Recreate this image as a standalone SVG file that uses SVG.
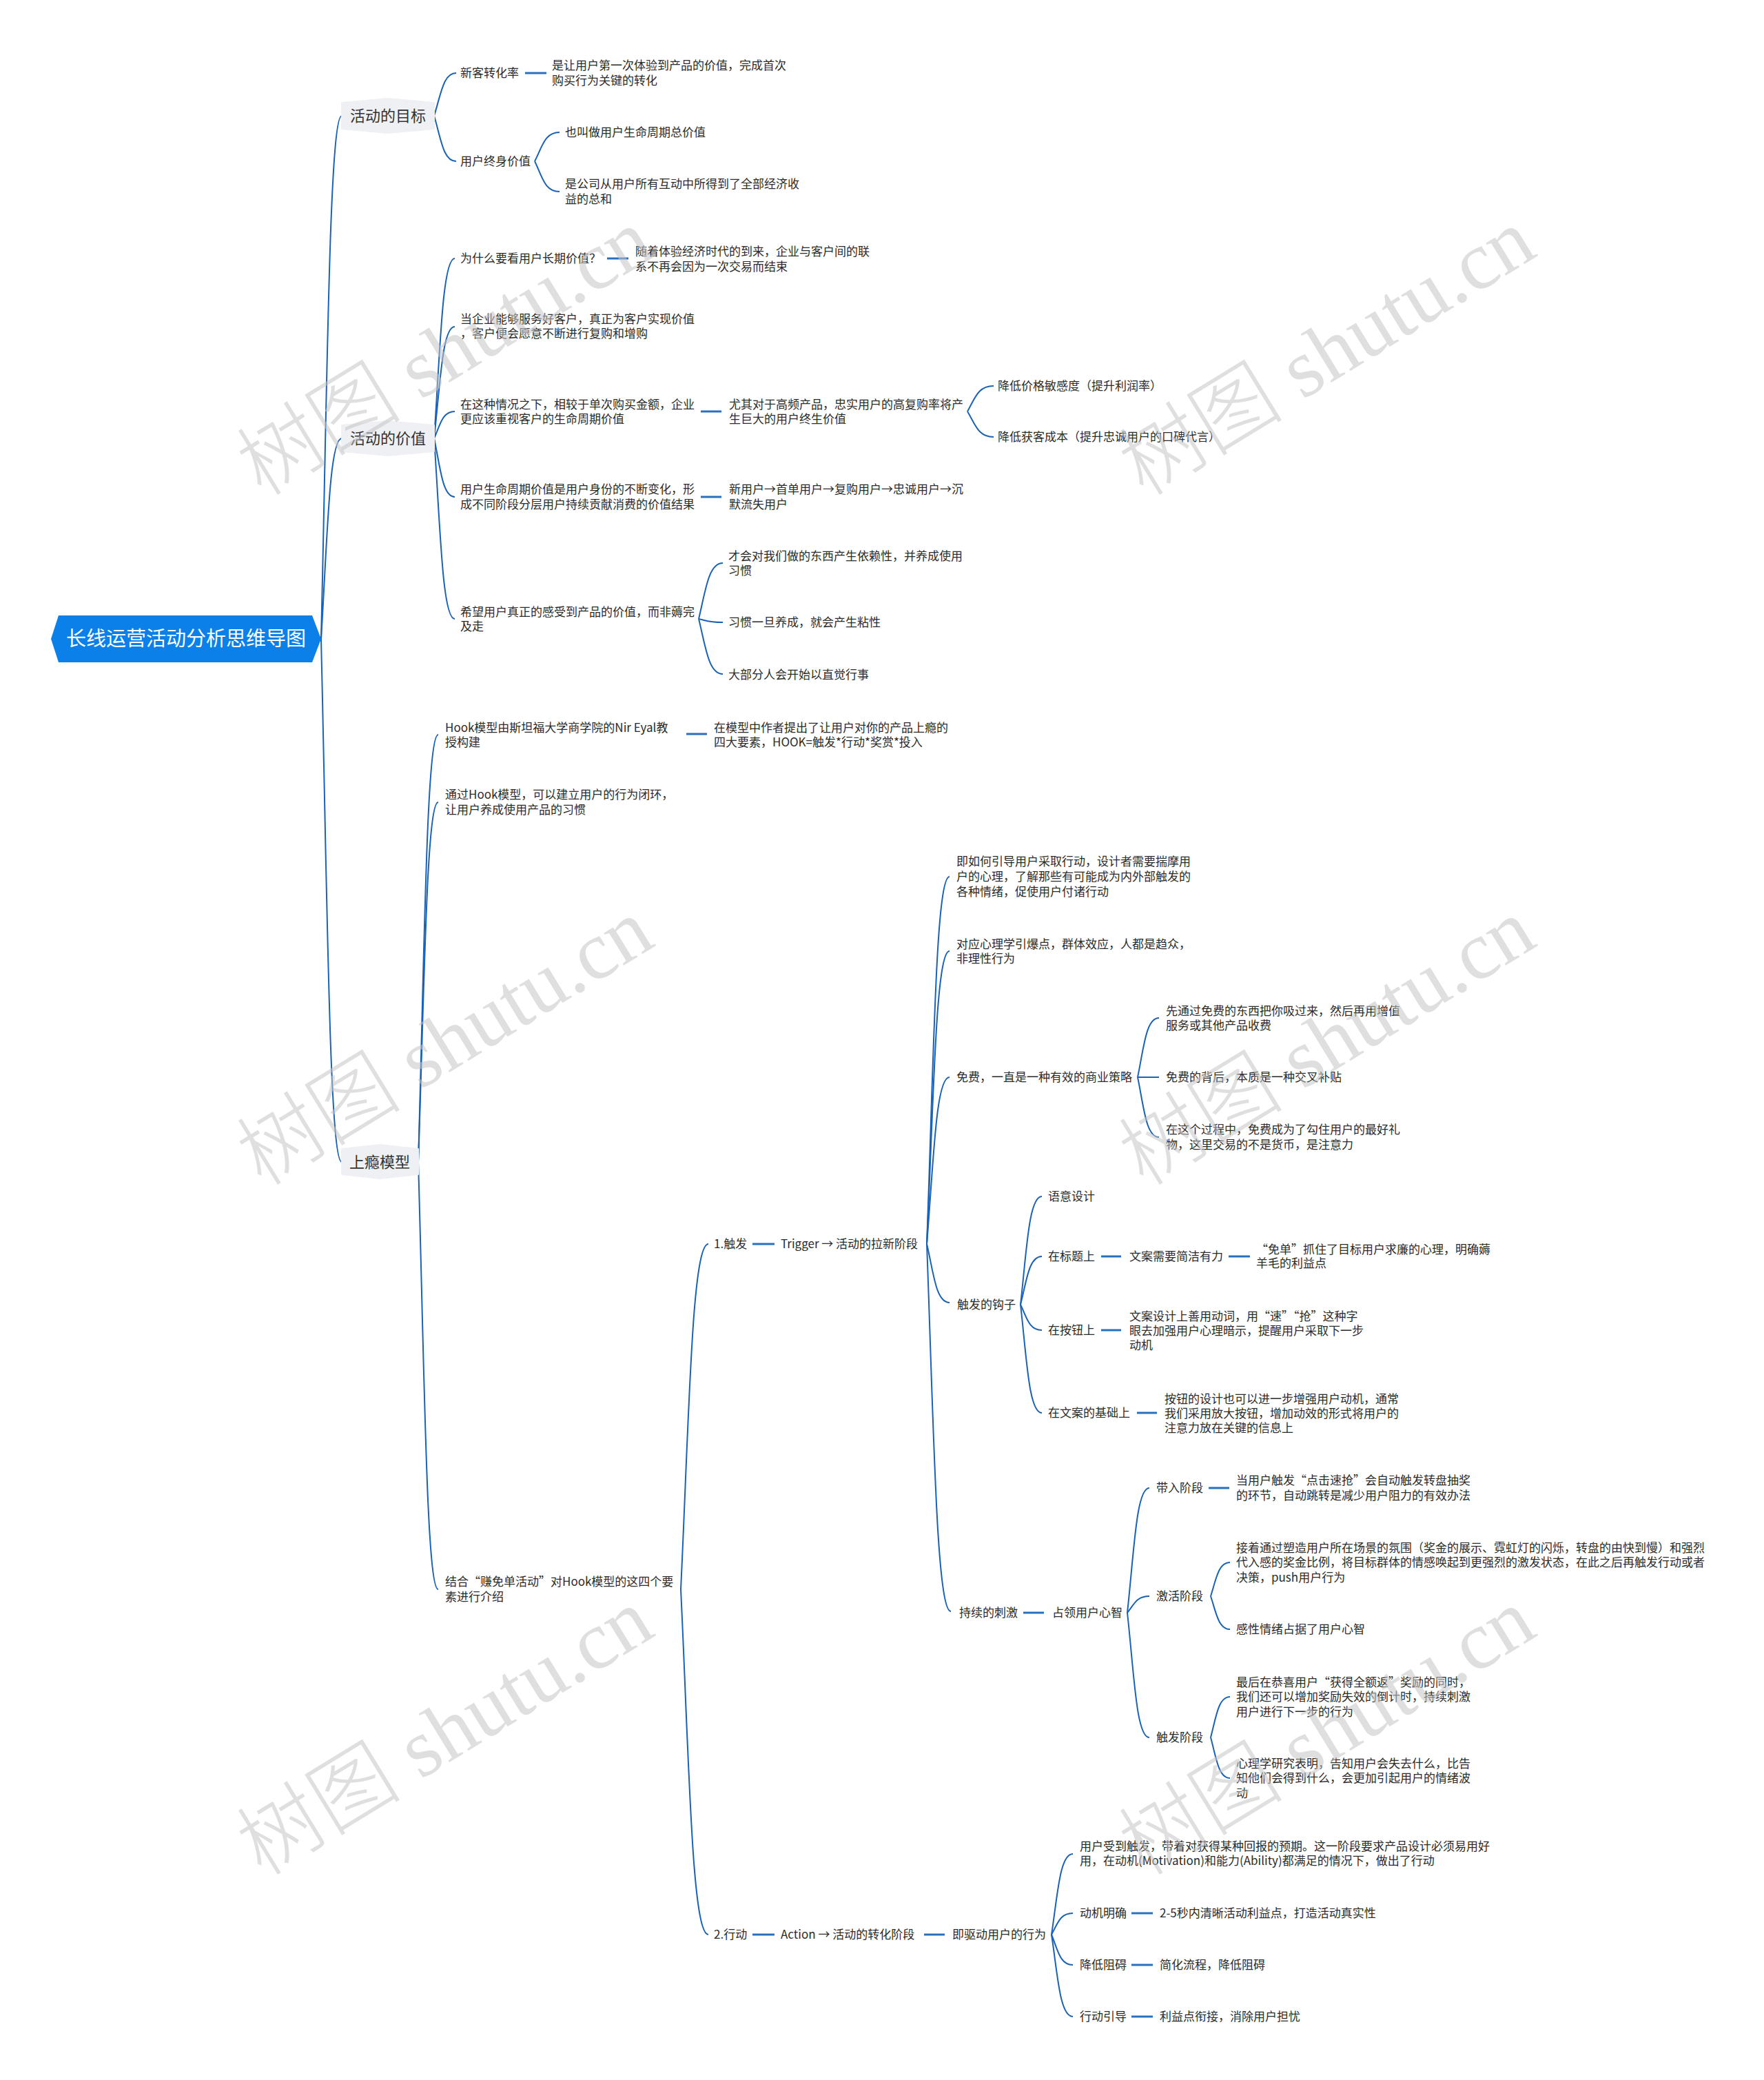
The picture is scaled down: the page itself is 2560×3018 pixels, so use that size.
<svg xmlns="http://www.w3.org/2000/svg" width="2560" height="3018" viewBox="0 0 2560 3018">
<style>
.t{font-family:"Noto Sans CJK SC","Liberation Sans",sans-serif;font-size:17px;fill:#2b2b2b}
.l1{font-family:"Noto Sans CJK SC","Liberation Sans",sans-serif;font-size:22px;fill:#333}
.rt{font-family:"Noto Sans CJK SC","Liberation Sans",sans-serif;font-size:29px;fill:#fff}
.c{fill:none;stroke:#1a62b5;stroke-width:2}
.d{stroke:#2870bf;stroke-width:3}
.hx{fill:#eef0f4;stroke:#eef0f4;stroke-width:2;stroke-linejoin:round}
.wm{font-family:"Liberation Serif","Noto Sans CJK SC",serif;font-size:120px;font-weight:300;fill:#c4c4c4;fill-opacity:0.55}
</style>
<rect width="2560" height="3018" fill="#fff"/>
<g id="connectors">
<path class="c" d="M466 927 C475 547 478 168 496 168"/>
<path class="c" d="M466 927 C475 781 478 636 496 636"/>
<path class="c" d="M466 927 C475 1306 478 1686 496 1686"/>
<path class="c" d="M630 168 C640 137 643 106 662 106"/>
<path class="c" d="M630 168 C640 201 643 234 662 234"/>
<path class="c" d="M776 234 C787 213 790 192 812 192"/>
<path class="c" d="M776 234 C787 256 790 278 812 278"/>
<path class="c" d="M630 636 C639 505 642 375 660 375"/>
<path class="c" d="M630 636 C639 555 642 474 660 474"/>
<path class="c" d="M630 636 C639 616 642 597 660 597"/>
<path class="c" d="M630 636 C639 678 642 721 660 721"/>
<path class="c" d="M630 636 C639 767 642 898 660 898"/>
<path class="c" d="M1404 597 C1415 578 1419 560 1442 560"/>
<path class="c" d="M1404 597 C1415 615 1419 634 1442 634"/>
<path class="c" d="M1014 898 C1024 857 1028 817 1049 817"/>
<path class="c" d="M1014 898 C1024 900 1028 903 1049 903"/>
<path class="c" d="M1014 898 C1024 938 1028 978 1049 978"/>
<path class="c" d="M607 1686 C616 1376 619 1066 636 1066"/>
<path class="c" d="M607 1686 C616 1425 619 1164 636 1164"/>
<path class="c" d="M607 1686 C616 1996 619 2306 636 2306"/>
<path class="c" d="M988 2306 C1000 2055 1004 1805 1028 1805"/>
<path class="c" d="M988 2306 C1000 2556 1004 2807 1028 2807"/>
<path class="c" d="M1345 1805 C1355 1538 1358 1272 1378 1272"/>
<path class="c" d="M1345 1805 C1355 1592 1358 1380 1378 1380"/>
<path class="c" d="M1345 1805 C1355 1684 1358 1563 1378 1563"/>
<path class="c" d="M1345 1805 C1355 1847 1358 1890 1378 1890"/>
<path class="c" d="M1345 1805 C1355 2071 1359 2338 1380 2338"/>
<path class="c" d="M1651 1563 C1660 1520 1663 1477 1682 1477"/>
<path class="c" d="M1651 1563 L1682 1563"/>
<path class="c" d="M1651 1563 C1660 1606 1663 1650 1682 1650"/>
<path class="c" d="M1481 1893 C1490 1814 1493 1736 1512 1736"/>
<path class="c" d="M1481 1893 C1490 1858 1493 1823 1512 1823"/>
<path class="c" d="M1481 1893 C1490 1911 1493 1930 1512 1930"/>
<path class="c" d="M1481 1893 C1490 1971 1493 2050 1512 2050"/>
<path class="c" d="M1636 2340 C1646 2249 1649 2159 1668 2159"/>
<path class="c" d="M1636 2340 C1646 2328 1649 2316 1668 2316"/>
<path class="c" d="M1636 2340 C1646 2430 1649 2521 1668 2521"/>
<path class="c" d="M1757 2316 C1765 2291 1768 2267 1785 2267"/>
<path class="c" d="M1757 2316 C1765 2340 1768 2364 1785 2364"/>
<path class="c" d="M1757 2521 C1765 2491 1768 2462 1785 2462"/>
<path class="c" d="M1757 2521 C1765 2550 1768 2580 1785 2580"/>
<path class="c" d="M1526 2807 C1535 2748 1538 2690 1557 2690"/>
<path class="c" d="M1526 2807 C1535 2791 1538 2776 1557 2776"/>
<path class="c" d="M1526 2807 C1535 2829 1538 2851 1557 2851"/>
<path class="c" d="M1526 2807 C1535 2866 1538 2926 1557 2926"/>
<line class="d" x1="762" y1="106" x2="793" y2="106"/>
<line class="d" x1="881" y1="375" x2="912" y2="375"/>
<line class="d" x1="1017" y1="597" x2="1047" y2="597"/>
<line class="d" x1="1017" y1="721" x2="1047" y2="721"/>
<line class="d" x1="996" y1="1065" x2="1026" y2="1065"/>
<line class="d" x1="1092" y1="1805" x2="1124" y2="1805"/>
<line class="d" x1="1598" y1="1823" x2="1627" y2="1823"/>
<line class="d" x1="1783" y1="1823" x2="1814" y2="1823"/>
<line class="d" x1="1598" y1="1930" x2="1627" y2="1930"/>
<line class="d" x1="1650" y1="2050" x2="1679" y2="2050"/>
<line class="d" x1="1485" y1="2340" x2="1515" y2="2340"/>
<line class="d" x1="1754" y1="2159" x2="1784" y2="2159"/>
<line class="d" x1="1092" y1="2807" x2="1124" y2="2807"/>
<line class="d" x1="1341" y1="2807" x2="1371" y2="2807"/>
<line class="d" x1="1642" y1="2776" x2="1673" y2="2776"/>
<line class="d" x1="1642" y1="2851" x2="1673" y2="2851"/>
<line class="d" x1="1642" y1="2926" x2="1673" y2="2926"/>
</g>
<g id="root">
<polygon points="85,893 453,893 466,927 453,961 85,961 74,927" fill="#0a80e8"/>
<text class="rt" x="270" y="937" text-anchor="middle">长线运营活动分析思维导图</text>
</g>
<g id="n-goal">
<polygon class="hx" points="496,149 563,143 630,149 630,187 563,193 496,187"/>
<text class="l1" x="563" y="176" text-anchor="middle">活动的目标</text>
</g>
<g id="n-goal-1"><text class="t" x="668" y="112">新客转化率</text></g>
<g id="n-goal-1a"><text class="t" x="801" y="101">是让用户第一次体验到产品的价值，完成首次<tspan x="801" dy="22">购买行为关键的转化</tspan></text></g>
<g id="n-goal-2"><text class="t" x="668" y="240">用户终身价值</text></g>
<g id="n-goal-2a"><text class="t" x="820" y="198">也叫做用户生命周期总价值</text></g>
<g id="n-goal-2b"><text class="t" x="820" y="273">是公司从用户所有互动中所得到了全部经济收<tspan x="820" dy="22">益的总和</tspan></text></g>
<g id="n-value">
<polygon class="hx" points="496,617 563,611 630,617 630,655 563,661 496,655"/>
<text class="l1" x="563" y="644" text-anchor="middle">活动的价值</text>
</g>
<g id="n-value-1"><text class="t" x="668" y="381">为什么要看用户长期价值？</text></g>
<g id="n-value-1a"><text class="t" x="922" y="371">随着体验经济时代的到来，企业与客户间的联<tspan x="922" dy="22">系不再会因为一次交易而结束</tspan></text></g>
<g id="n-value-2"><text class="t" x="668" y="469">当企业能够服务好客户，真正为客户实现价值<tspan x="668" dy="21">，客户便会愿意不断进行复购和增购</tspan></text></g>
<g id="n-value-3"><text class="t" x="668" y="593">在这种情况之下，相较于单次购买金额，企业<tspan x="668" dy="21">更应该重视客户的生命周期价值</tspan></text></g>
<g id="n-value-3a"><text class="t" x="1058" y="593">尤其对于高频产品，忠实用户的高复购率将产<tspan x="1058" dy="21">生巨大的用户终生价值</tspan></text></g>
<g id="n-value-3a1"><text class="t" x="1448" y="566">降低价格敏感度（提升利润率）</text></g>
<g id="n-value-3a2"><text class="t" x="1448" y="640">降低获客成本（提升忠诚用户的口碑代言）</text></g>
<g id="n-value-4"><text class="t" x="668" y="716">用户生命周期价值是用户身份的不断变化，形<tspan x="668" dy="22">成不同阶段分层用户持续贡献消费的价值结果</tspan></text></g>
<g id="n-value-4a"><text class="t" x="1058" y="716">新用户→首单用户→复购用户→忠诚用户→沉<tspan x="1058" dy="22">默流失用户</tspan></text></g>
<g id="n-value-5"><text class="t" x="668" y="894">希望用户真正的感受到产品的价值，而非薅完<tspan x="668" dy="21">及走</tspan></text></g>
<g id="n-value-5a"><text class="t" x="1057" y="813">才会对我们做的东西产生依赖性，并养成使用<tspan x="1057" dy="21">习惯</tspan></text></g>
<g id="n-value-5b"><text class="t" x="1057" y="909">习惯一旦养成，就会产生粘性</text></g>
<g id="n-value-5c"><text class="t" x="1057" y="985">大部分人会开始以直觉行事</text></g>
<g id="n-hook">
<polygon class="hx" points="496,1667 551,1661 607,1667 607,1704 551,1710 496,1704"/>
<text class="l1" x="551" y="1694" text-anchor="middle">上瘾模型</text>
</g>
<g id="n-hook-1"><text class="t" x="646" y="1062">Hook模型由斯坦福大学商学院的Nir Eyal教<tspan x="646" dy="21">授构建</tspan></text></g>
<g id="n-hook-1a"><text class="t" x="1036" y="1062">在模型中作者提出了让用户对你的产品上瘾的<tspan x="1036" dy="21">四大要素，HOOK=触发*行动*奖赏*投入</tspan></text></g>
<g id="n-hook-2"><text class="t" x="646" y="1159">通过Hook模型，可以建立用户的行为闭环，<tspan x="646" dy="22">让用户养成使用产品的习惯</tspan></text></g>
<g id="n-hook-3"><text class="t" x="646" y="2301">结合“赚免单活动”对Hook模型的这四个要<tspan x="646" dy="22">素进行介绍</tspan></text></g>
<g id="n-trigger"><text class="t" x="1036" y="1811">1.触发</text></g>
<g id="n-trigger-a"><text class="t" x="1133" y="1811">Trigger → 活动的拉新阶段</text></g>
<g id="n-t1"><text class="t" x="1388" y="1256">即如何引导用户采取行动，设计者需要揣摩用<tspan x="1388" dy="22">户的心理，了解那些有可能成为内外部触发的</tspan><tspan x="1388" dy="22">各种情绪，促使用户付诸行动</tspan></text></g>
<g id="n-t2"><text class="t" x="1388" y="1376">对应心理学引爆点，群体效应，人都是趋众，<tspan x="1388" dy="21">非理性行为</tspan></text></g>
<g id="n-t3"><text class="t" x="1388" y="1569">免费，一直是一种有效的商业策略</text></g>
<g id="n-t3a"><text class="t" x="1692" y="1473">先通过免费的东西把你吸过来，然后再用增值<tspan x="1692" dy="21">服务或其他产品收费</tspan></text></g>
<g id="n-t3b"><text class="t" x="1692" y="1569">免费的背后，本质是一种交叉补贴</text></g>
<g id="n-t3c"><text class="t" x="1692" y="1645">在这个过程中，免费成为了勾住用户的最好礼<tspan x="1692" dy="22">物，这里交易的不是货币，是注意力</tspan></text></g>
<g id="n-t4"><text class="t" x="1389" y="1899">触发的钩子</text></g>
<g id="n-t4a"><text class="t" x="1521" y="1742">语意设计</text></g>
<g id="n-t4b"><text class="t" x="1521" y="1829">在标题上</text></g>
<g id="n-t4b1"><text class="t" x="1639" y="1829">文案需要简洁有力</text></g>
<g id="n-t4b2"><text class="t" x="1823" y="1819">“免单”抓住了目标用户求廉的心理，明确薅<tspan x="1823" dy="20">羊毛的利益点</tspan></text></g>
<g id="n-t4c"><text class="t" x="1521" y="1936">在按钮上</text></g>
<g id="n-t4c1"><text class="t" x="1639" y="1916">文案设计上善用动词，用“速”“抢”这种字<tspan x="1639" dy="21">眼去加强用户心理暗示，提醒用户采取下一步</tspan><tspan x="1639" dy="21">动机</tspan></text></g>
<g id="n-t4d"><text class="t" x="1521" y="2056">在文案的基础上</text></g>
<g id="n-t4d1"><text class="t" x="1690" y="2036">按钮的设计也可以进一步增强用户动机，通常<tspan x="1690" dy="21">我们采用放大按钮，增加动效的形式将用户的</tspan><tspan x="1690" dy="21">注意力放在关键的信息上</tspan></text></g>
<g id="n-t5"><text class="t" x="1392" y="2346">持续的刺激</text></g>
<g id="n-t5x"><text class="t" x="1527" y="2346">占领用户心智</text></g>
<g id="n-t5a"><text class="t" x="1678" y="2165">带入阶段</text></g>
<g id="n-t5a1"><text class="t" x="1794" y="2154">当用户触发“点击速抢”会自动触发转盘抽奖<tspan x="1794" dy="22">的环节，自动跳转是减少用户阻力的有效办法</tspan></text></g>
<g id="n-t5b"><text class="t" x="1678" y="2322">激活阶段</text></g>
<g id="n-t5b1"><text class="t" x="1794" y="2252">接着通过塑造用户所在场景的氛围（奖金的展示、霓虹灯的闪烁，转盘的由快到慢）和强烈<tspan x="1794" dy="21">代入感的奖金比例，将目标群体的情感唤起到更强烈的激发状态，在此之后再触发行动或者</tspan><tspan x="1794" dy="22">决策，push用户行为</tspan></text></g>
<g id="n-t5b2"><text class="t" x="1794" y="2370">感性情绪占据了用户心智</text></g>
<g id="n-t5c"><text class="t" x="1678" y="2527">触发阶段</text></g>
<g id="n-t5c1"><text class="t" x="1794" y="2447">最后在恭喜用户“获得全额返”奖励的同时，<tspan x="1794" dy="21">我们还可以增加奖励失效的倒计时，持续刺激</tspan><tspan x="1794" dy="22">用户进行下一步的行为</tspan></text></g>
<g id="n-t5c2"><text class="t" x="1794" y="2565">心理学研究表明，告知用户会失去什么，比告<tspan x="1794" dy="21">知他们会得到什么，会更加引起用户的情绪波</tspan><tspan x="1794" dy="22">动</tspan></text></g>
<g id="n-action"><text class="t" x="1036" y="2813">2.行动</text></g>
<g id="n-action-a"><text class="t" x="1133" y="2813">Action → 活动的转化阶段</text></g>
<g id="n-action-b"><text class="t" x="1382" y="2813">即驱动用户的行为</text></g>
<g id="n-a1"><text class="t" x="1567" y="2685">用户受到触发，带着对获得某种回报的预期。这一阶段要求产品设计必须易用好<tspan x="1567" dy="21">用，在动机(Motivation)和能力(Ability)都满足的情况下，做出了行动</tspan></text></g>
<g id="n-a2"><text class="t" x="1567" y="2782">动机明确</text></g>
<g id="n-a2a"><text class="t" x="1683" y="2782">2-5秒内清晰活动利益点，打造活动真实性</text></g>
<g id="n-a3"><text class="t" x="1567" y="2857">降低阻碍</text></g>
<g id="n-a3a"><text class="t" x="1683" y="2857">简化流程，降低阻碍</text></g>
<g id="n-a4"><text class="t" x="1567" y="2932">行动引导</text></g>
<g id="n-a4a"><text class="t" x="1683" y="2932">利益点衔接，消除用户担忧</text></g>
<g id="watermarks" text-anchor="middle">
<text class="wm" x="645" y="510" dy="0.35em" transform="rotate(-31.5 645 510)">树图 shutu.cn</text>
<text class="wm" x="645" y="1511" dy="0.35em" transform="rotate(-31.5 645 1511)">树图 shutu.cn</text>
<text class="wm" x="645" y="2512" dy="0.35em" transform="rotate(-31.5 645 2512)">树图 shutu.cn</text>
<text class="wm" x="1925" y="510" dy="0.35em" transform="rotate(-31.5 1925 510)">树图 shutu.cn</text>
<text class="wm" x="1925" y="1511" dy="0.35em" transform="rotate(-31.5 1925 1511)">树图 shutu.cn</text>
<text class="wm" x="1925" y="2512" dy="0.35em" transform="rotate(-31.5 1925 2512)">树图 shutu.cn</text>
</g>
</svg>
